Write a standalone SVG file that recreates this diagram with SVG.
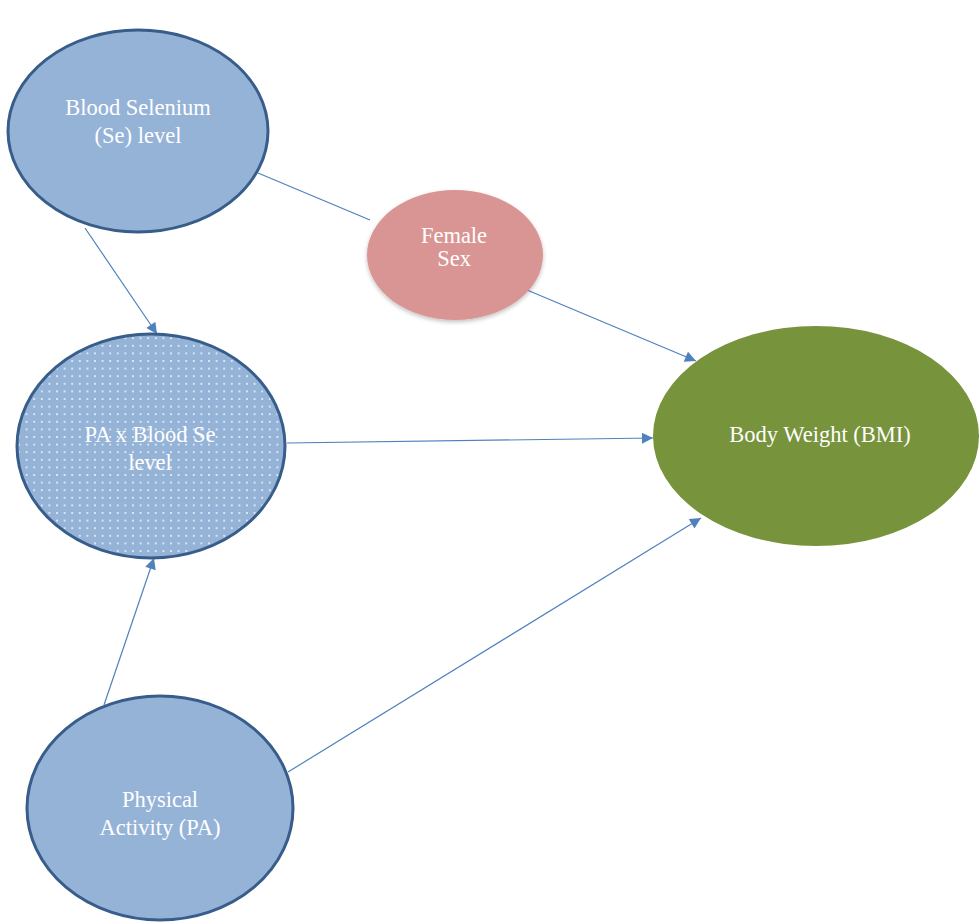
<svg xmlns="http://www.w3.org/2000/svg" width="979" height="922" viewBox="0 0 979 922">
<style>
.blue{fill:#95b3d7;stroke:#385d8a;stroke-width:3}
.lbl{font-family:"Liberation Serif","DejaVu Serif",serif;font-size:22.5px;fill:#ffffff;text-anchor:middle}
.edge{stroke:#4f81bd;stroke-width:1.2;fill:none}
</style>
<defs>
<pattern id="dots" width="7.6" height="7.6" patternUnits="userSpaceOnUse">
<circle cx="3.8" cy="3.8" r="0.95" fill="#ffffff" fill-opacity="0.9"/>
</pattern>
<marker id="arr" viewBox="0 0 10 10" refX="10" refY="5" markerWidth="12" markerHeight="11" markerUnits="userSpaceOnUse" orient="auto">
<path d="M0,0 L10,5 L0,10 z" fill="#4f81bd"/>
</marker>
<filter id="sh" x="-20%" y="-20%" width="140%" height="140%">
<feGaussianBlur in="SourceAlpha" stdDeviation="2"/>
<feOffset dx="0" dy="2" result="b"/>
<feComponentTransfer><feFuncA type="linear" slope="0.25"/></feComponentTransfer>
<feMerge><feMergeNode/><feMergeNode in="SourceGraphic"/></feMerge>
</filter>
</defs>
<rect width="979" height="922" fill="#ffffff"/>
<g id="connectors">
<line class="edge" x1="85" y1="228" x2="157" y2="334" marker-end="url(#arr)"/>
<line class="edge" x1="258" y1="173" x2="370" y2="220"/>
<line class="edge" x1="527" y1="290" x2="696" y2="361" marker-end="url(#arr)"/>
<line class="edge" x1="287" y1="443" x2="653" y2="438" marker-end="url(#arr)"/>
<line class="edge" x1="104" y1="705" x2="154" y2="558" marker-end="url(#arr)"/>
<line class="edge" x1="288" y1="772" x2="701" y2="518" marker-end="url(#arr)"/>
</g>
<g id="blood-se">
<ellipse class="blue" cx="138" cy="131" rx="130" ry="101"/>
<text class="lbl" x="138" y="115">Blood Selenium</text>
<text class="lbl" x="138" y="143">(Se) level</text>
</g>
<g id="female-sex">
<ellipse cx="455" cy="255" rx="88" ry="65" fill="#d99594" filter="url(#sh)"/>
<text class="lbl" x="454" y="243">Female</text>
<text class="lbl" x="454" y="266">Sex</text>
</g>
<g id="pa-x-se">
<ellipse class="blue" cx="151" cy="446" rx="134" ry="112"/>
<ellipse cx="151" cy="446" rx="132" ry="110" fill="url(#dots)"/>
<text class="lbl" x="150" y="442">PA x Blood Se</text>
<text class="lbl" x="150" y="470">level</text>
</g>
<g id="body-weight">
<ellipse cx="816" cy="436" rx="163" ry="110" fill="#77933c"/>
<text class="lbl" x="820" y="442">Body Weight (BMI)</text>
</g>
<g id="physical-activity">
<ellipse class="blue" cx="160" cy="808" rx="133" ry="112"/>
<text class="lbl" x="160" y="807">Physical</text>
<text class="lbl" x="160" y="835">Activity (PA)</text>
</g>
</svg>
